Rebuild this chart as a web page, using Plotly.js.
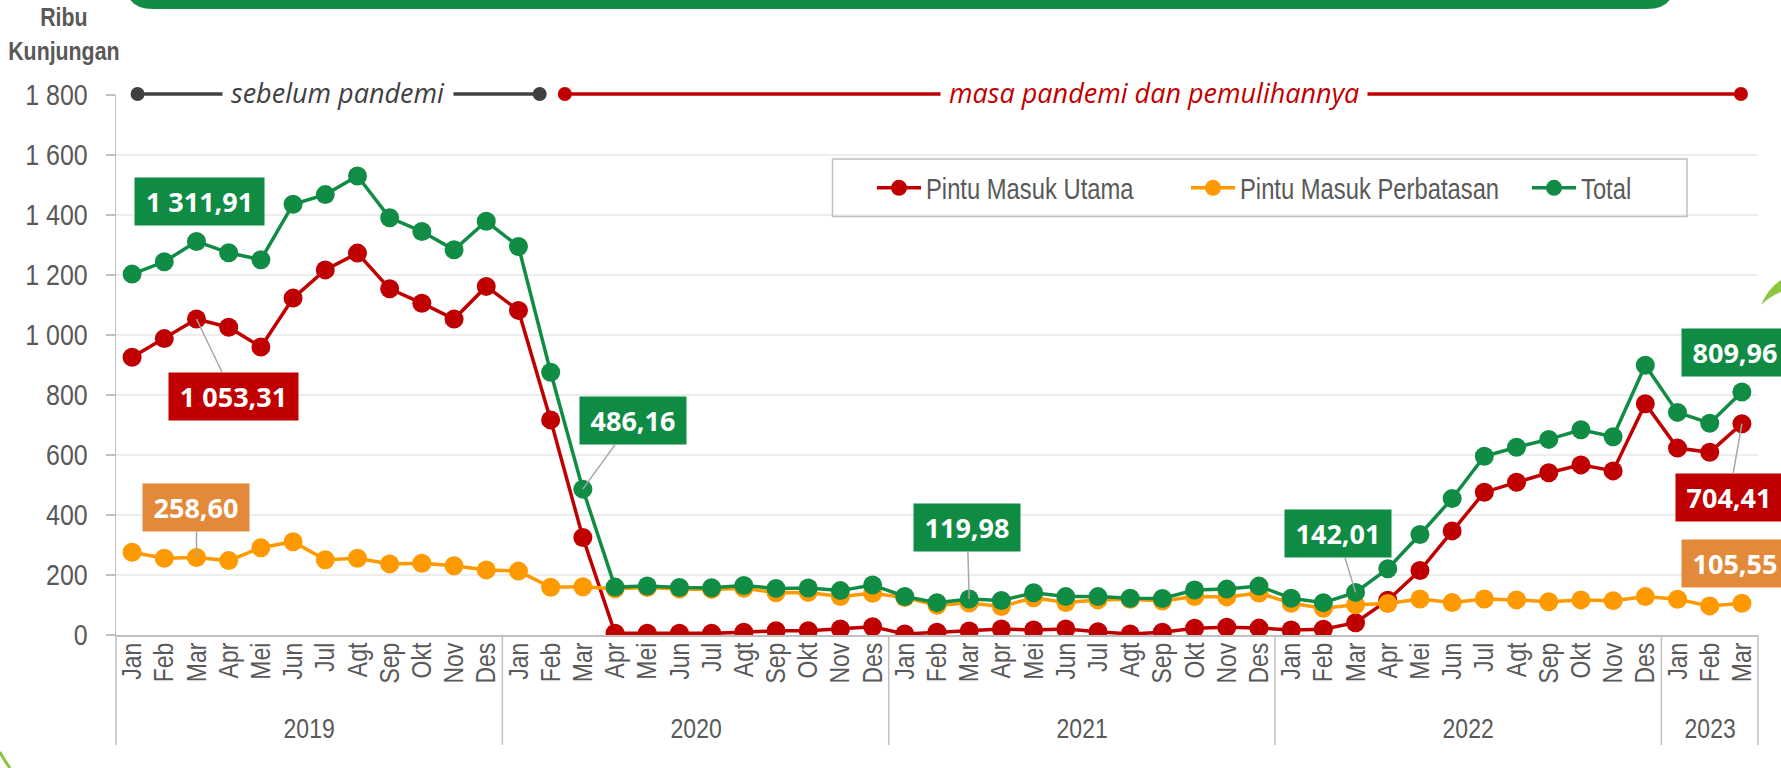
<!DOCTYPE html>
<html>
<head>
<meta charset="utf-8">
<script src="https://cdn.plot.ly/plotly-3.0.1.min.js"></script>
<style>
  html, body { margin: 0; padding: 0; background: #ffffff; }
  #chart { width: 1781px; height: 768px; }
</style>
</head>
<body>
<div id="chart"></div>
<script>
// ---------------- DATA ----------------
const monthLabels = [
  'Jan','Feb','Mar','Apr','Mei','Jun','Jul','Agt','Sep','Okt','Nov','Des',
  'Jan','Feb','Mar','Apr','Mei','Jun','Jul','Agt','Sep','Okt','Nov','Des',
  'Jan','Feb','Mar','Apr','Mei','Jun','Jul','Agt','Sep','Okt','Nov','Des',
  'Jan','Feb','Mar','Apr','Mei','Jun','Jul','Agt','Sep','Okt','Nov','Des',
  'Jan','Feb','Mar'
];
const yearLabels = ['2019', '2020', '2021', '2022', '2023'];
const monthsInYear = [12, 12, 12, 12, 3];

const pintuMasukUtama = [
  926, 988, 1053.31, 1026, 960, 1123, 1217, 1273, 1154, 1106, 1053, 1162,
  1082, 717, 325.16, 5.6, 5.6, 5.6, 5.6, 8.9, 14.4, 14.4, 20, 27.8,
  3.3, 8.9, 13.3, 20, 16.7, 20, 11, 3.3, 8.9, 22.2, 26, 23,
  16.7, 18.9, 41.1, 116, 215, 347, 476, 509, 541, 567, 547, 771,
  623, 609, 704.41
];
const pintuMasukPerbatasan = [
  276, 256, 258.60, 248, 291, 311, 251, 256, 237, 239, 231, 217,
  213, 159, 161, 154, 158, 153, 152, 156, 141, 142, 128, 139,
  125, 99, 106.68, 95, 124, 108, 117, 119, 113, 128, 127, 140,
  106, 89, 100.91, 105, 120, 108, 120, 117, 111, 117, 114.5, 128,
  119, 97, 105.55
];
const totalKunjungan = [
  1203, 1244, 1311.91, 1274, 1251, 1436, 1468, 1530, 1391, 1345, 1284, 1379,
  1295, 876, 486.16, 159.6, 163.6, 158.6, 157.6, 164.9, 155.4, 156.4, 148, 166.8,
  128.3, 107.9, 119.98, 115, 140.7, 128, 128, 122.3, 121.9, 150.2, 153, 163,
  122.7, 107.9, 142.01, 221, 335, 455, 596, 626, 652, 684, 661, 899,
  742, 706, 809.96
];
const seriesNames = ['Pintu Masuk Utama', 'Pintu Masuk Perbatasan', 'Total'];
const periodTexts = ['sebelum pandemi', 'masa pandemi dan pemulihannya'];
const axisTitleLines = ['Ribu', 'Kunjungan'];

// ---------------- STYLE ----------------
const RED = '#C00000', ORANGE = '#FF9900', GREEN = '#118C45';
const LBL_GREEN = '#0F8B44', LBL_RED = '#C00000', LBL_ORANGE = '#E38A3A';
const GREY_TXT = '#595959', AXIS = '#BFBFBF';
const NARROW = '"Liberation Sans Narrow", "Arial Narrow", "Liberation Sans", sans-serif';
const HUMAN = '"Open Sans", "Noto Sans", sans-serif';

const W = 1781, H = 768;
const M = { l: 116, r: 23, t: 95, b: 133 };
const PW = W - M.l - M.r, PH = H - M.t - M.b;
const px2x = px => (px - M.l) / PW;
const py2y = py => (H - M.b - py) / PH;

const idx = monthLabels.map((_, i) => i);
const nCat = monthLabels.length;
const catPaper = c => (c + 0.5) / nCat;

function fmtID(v) {
  const s = v.toFixed(2).split('.');
  const intPart = s[0].replace(/\B(?=(\d{3})+(?!\d))/g, ' ');
  return intPart + ',' + s[1];
}

function lineTrace(y, name, color, legendId) {
  return {
    type: 'scatter', mode: 'lines+markers', x: idx, y: y, name: name,
    line: { color: color, width: 3.5 },
    marker: { color: color, size: 19 },
    legend: legendId, hoverinfo: 'skip'
  };
}

const traces = [
  lineTrace(pintuMasukUtama, seriesNames[0], RED, 'legend'),
  lineTrace(pintuMasukPerbatasan, seriesNames[1], ORANGE, 'legend2'),
  lineTrace(totalKunjungan, seriesNames[2], GREEN, 'legend3')
];

// ---------------- SHAPES ----------------
const shapes = [];
let b = -0.5;
const bounds = [b];
monthsInYear.forEach(n => { b += n; bounds.push(b); });
bounds.forEach(v => {
  shapes.push({ type: 'line', xref: 'paper', yref: 'paper',
    x0: catPaper(v), x1: catPaper(v), y0: 0, y1: py2y(745),
    line: { color: AXIS, width: 1.5 } });
});
// legend frame
shapes.push({ type: 'rect', xref: 'paper', yref: 'paper',
  x0: px2x(832.5), x1: px2x(1687), y0: py2y(159), y1: py2y(216.5),
  line: { color: AXIS, width: 1.5 }, fillcolor: 'rgba(255,255,255,0)' });

// period bars
const periods = [
  { c0: 0.17, c1: 12.66, color: '#404040', text: periodTexts[0], tc: 6.4 },
  { c0: 13.44, c1: 49.97, color: RED, text: periodTexts[1], tc: 31.73 }
];
periods.forEach(p => {
  shapes.push({ type: 'line', xref: 'paper', yref: 'paper',
    x0: catPaper(p.c0), x1: catPaper(p.c1), y0: py2y(94), y1: py2y(94),
    line: { color: p.color, width: 3.5 } });
  [p.c0, p.c1].forEach(c => {
    shapes.push({ type: 'circle', xref: 'paper', yref: 'paper',
      xsizemode: 'pixel', ysizemode: 'pixel',
      xanchor: catPaper(c), yanchor: py2y(94),
      x0: -7, x1: 7, y0: -7, y1: 7,
      fillcolor: p.color, line: { color: p.color, width: 0 } });
  });
});

// decorations: green banner at the top, leaf and arc
(function () {
  const x0 = px2x(125), x1 = px2x(1675), yt = py2y(-20), yb = py2y(9);
  const rx = 28 / PW, ry = 28 / PH;
  shapes.push({ type: 'path', xref: 'paper', yref: 'paper',
    path: `M ${x0},${yt} L ${x0},${yb + ry} Q ${x0},${yb} ${x0 + rx},${yb} L ${x1 - rx},${yb} Q ${x1},${yb} ${x1},${yb + ry} L ${x1},${yt} Z`,
    fillcolor: GREEN, line: { width: 0 } });
  shapes.push({ type: 'path', xref: 'paper', yref: 'paper',
    path: `M ${px2x(1761)},${py2y(305)} Q ${px2x(1768)},${py2y(288)} ${px2x(1781)},${py2y(280)} L ${px2x(1781)},${py2y(292)} Q ${px2x(1770)},${py2y(296)} ${px2x(1761)},${py2y(305)} Z`,
    fillcolor: '#8CC63F', line: { width: 0 } });
  shapes.push({ type: 'path', xref: 'paper', yref: 'paper',
    path: `M ${px2x(0)},${py2y(752)} Q ${px2x(4)},${py2y(760)} ${px2x(10)},${py2y(768)}`,
    line: { color: '#8CC63F', width: 3 } });
})();

// ---------------- ANNOTATIONS ----------------
const annotations = [];
annotations.push({ xref: 'paper', yref: 'paper', x: px2x(64), y: py2y(34),
  xanchor: 'center', yanchor: 'middle',
  text: axisTitleLines.map(s => '<b>' + s + '</b>').join('<br>'), showarrow: false,
  font: { family: NARROW, size: 26, color: GREY_TXT }, align: 'center' });
periods.forEach(p => {
  annotations.push({ xref: 'paper', yref: 'paper', x: catPaper(p.tc), y: py2y(93),
    xanchor: 'center', yanchor: 'middle',
    text: '<i>' + p.text + '</i>', showarrow: false, bgcolor: '#ffffff', borderpad: 8,
    font: { family: HUMAN, size: 27, color: p.color, style: 'italic' } });
});
let start = 0;
yearLabels.forEach((yl, k) => {
  const mid = start + (monthsInYear[k] - 1) / 2;
  annotations.push({ xref: 'paper', yref: 'paper', x: catPaper(mid), y: py2y(728),
    xanchor: 'center', yanchor: 'middle',
    text: yl, showarrow: false, font: { family: NARROW, size: 28, color: GREY_TXT } });
  start += monthsInYear[k];
});
const labelDefs = [
  { s: totalKunjungan, i: 2, bg: LBL_GREEN, w: 129, arrow: false, dx: 3, dy: 40 },
  { s: pintuMasukUtama, i: 2, bg: LBL_RED, w: 129, arrow: true, dx: 37, dy: 77 },
  { s: pintuMasukPerbatasan, i: 2, bg: LBL_ORANGE, w: 106, arrow: true, dx: 0, dy: -50 },
  { s: totalKunjungan, i: 14, bg: LBL_GREEN, w: 106, arrow: true, dx: 50, dy: -69 },
  { s: totalKunjungan, i: 26, bg: LBL_GREEN, w: 106, arrow: true, dx: -2, dy: -72 },
  { s: totalKunjungan, i: 38, bg: LBL_GREEN, w: 106, arrow: true, dx: -18, dy: -59 },
  { s: totalKunjungan, i: 50, bg: LBL_GREEN, w: 106, arrow: false, dx: -7, dy: 40 },
  { s: pintuMasukUtama, i: 50, bg: LBL_RED, w: 106, arrow: true, dx: -13, dy: 74 },
  { s: pintuMasukPerbatasan, i: 50, bg: LBL_ORANGE, w: 106, arrow: false, dx: -7, dy: 40 }
];
labelDefs.forEach(d => {
  const a = { xref: 'x', yref: 'y', x: idx[d.i], y: d.s[d.i],
    text: '<b>' + fmtID(d.s[d.i]) + '</b>',
    font: { family: HUMAN, size: 27, color: '#ffffff' },
    bgcolor: d.bg, borderpad: 3, width: d.w - 6, height: 47 - 6,
    align: 'center', valign: 'middle' };
  if (d.arrow) {
    Object.assign(a, { showarrow: true, ax: d.dx, ay: d.dy, arrowhead: 0,
      arrowwidth: 1.5, arrowcolor: '#A6A6A6', standoff: 0 });
  } else {
    Object.assign(a, { showarrow: false, xshift: d.dx, yshift: d.dy });
  }
  annotations.push(a);
});

// ---------------- LAYOUT ----------------
const legendBase = {
  orientation: 'h', xanchor: 'left', yanchor: 'middle', y: py2y(188),
  bgcolor: 'rgba(0,0,0,0)', borderwidth: 0, itemwidth: 44,
  font: { family: NARROW, size: 29, color: GREY_TXT }
};

const layout = {
  width: W, height: H,
  margin: { l: M.l, r: M.r, t: M.t, b: M.b, pad: 0 },
  paper_bgcolor: '#ffffff', plot_bgcolor: '#ffffff',
  separators: ', ',
  showlegend: true,
  legend: Object.assign({}, legendBase, { x: px2x(872) }),
  legend2: Object.assign({}, legendBase, { x: px2x(1186) }),
  legend3: Object.assign({}, legendBase, { x: px2x(1527) }),
  xaxis: {
    type: 'linear', range: [-0.5, nCat - 0.5],
    tickmode: 'array', tickvals: idx, ticktext: monthLabels,
    tickangle: -90, ticks: '', showgrid: false, zeroline: false,
    showline: true, linecolor: AXIS, linewidth: 1.5,
    ticklabelstandoff: -5,
    tickfont: { family: NARROW, size: 28, color: GREY_TXT },
    fixedrange: true
  },
  yaxis: {
    range: [0, 1800], tickmode: 'linear', tick0: 0, dtick: 200,
    tickformat: ',d',
    showgrid: true, gridcolor: '#EDEDED', gridwidth: 1.5,
    zeroline: false, showline: true, linecolor: AXIS, linewidth: 1.5,
    ticks: 'outside', ticklen: 9, tickcolor: AXIS, tickwidth: 1.5,
    ticklabelstandoff: 12,
    tickfont: { family: NARROW, size: 29, color: GREY_TXT },
    fixedrange: true
  },
  shapes: shapes,
  annotations: annotations
};

// Narrow-face emulation: the installed sans has Arial metrics; squeeze it to
// Arial Narrow proportions while keeping each text's anchor point in place.
function condenseText(gd) {
  const nodes = gd.querySelectorAll('svg text');
  nodes.forEach(t => {
    const ff = (t.style && t.style.fontFamily) || '';
    if (ff.indexOf('Narrow') < 0) return;
    const f = t.closest('.ytick') ? 0.86 : 0.82;
    const anchor = t.getAttribute('text-anchor') || window.getComputedStyle(t).textAnchor || 'start';
    const lines = t.querySelectorAll('tspan.line');
    const targets = lines.length ? Array.from(lines) : [t];
    targets.forEach(el => {
      const len = el.getComputedTextLength();
      if (!(len > 0)) return;
      let bb0 = null;
      try { bb0 = el.getBBox(); } catch (e) { bb0 = null; }
      el.setAttribute('textLength', (len * f).toFixed(2));
      el.setAttribute('lengthAdjust', 'spacingAndGlyphs');
      if (!bb0) return;
      let bb1 = null;
      try { bb1 = el.getBBox(); } catch (e) { bb1 = null; }
      if (!bb1) return;
      let dx;
      if (anchor === 'end') dx = (bb0.x + bb0.width) - (bb1.x + bb1.width);
      else if (anchor === 'middle') dx = (bb0.x + bb0.width / 2) - (bb1.x + bb1.width / 2);
      else dx = bb0.x - bb1.x;
      if (Math.abs(dx) > 0.3) {
        const x = parseFloat(el.getAttribute('x') || '0');
        el.setAttribute('x', (x + dx).toFixed(2));
      }
    });
  });
}

Plotly.newPlot('chart', traces, layout, { displayModeBar: false, staticPlot: true })
  .then(gd => condenseText(gd));
</script>
</body>
</html>
